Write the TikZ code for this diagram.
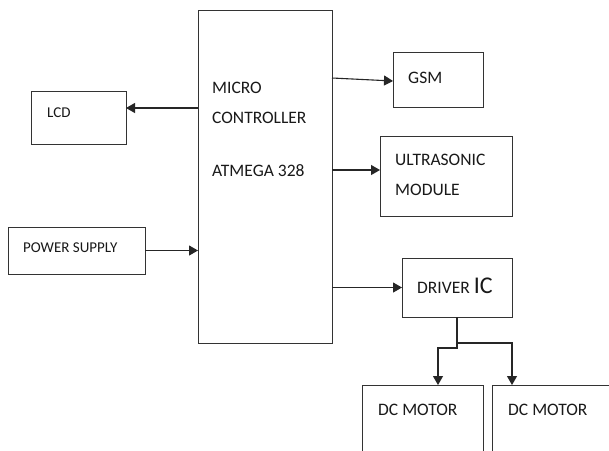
\documentclass[tikz,border=0pt]{standalone}
\usepackage{fontspec}
\setmainfont{Carlito}
\usepackage{tikz}
\usetikzlibrary{arrows.meta, positioning, calc}

\begin{document}
\begin{tikzpicture}[
    x=1pt, y=-1pt,
    blockbox/.style={draw=black!80, line width=1pt, rectangle, outer sep=0pt, inner sep=0pt},
    blocklabel/.style={anchor=base west, inner sep=0pt, text=black!90,
        font=\fontsize{17.5}{20}\selectfont},
    smalllabel/.style={blocklabel, font=\fontsize{15}{18}\selectfont},
    link/.style={draw=black!85, line width=1.1pt, -{Triangle[length=9pt, width=10pt]}},
    >=Triangle
]
\clip (0,0) rectangle (609,450);
\fill[white] (0,0) rectangle (609,450);

% --- Microcontroller (centre) ---
\node[blockbox, minimum width=134pt, minimum height=333pt] (mcu) at (265,176.5) {};
\node[blocklabel] (mculab1) at (212,93) {MICRO};
\node[blocklabel] (mculab2) at (212,123) {CONTROLLER};
\node[blocklabel] (mculab3) at (212,176) {ATMEGA 328};

% --- LCD and power supply (left) ---
\node[blockbox, minimum width=95pt, minimum height=53pt] (lcd) at (78.5,117.5) {};
\node[smalllabel] (lcdlab) at (47,117) {LCD};
\node[blockbox, minimum width=137pt, minimum height=47pt] (power) at (76.5,250.5) {};
\node[smalllabel] (powerlab) at (23,252) {POWER SUPPLY};

% --- GSM, ultrasonic, driver (right) ---
\node[blockbox, minimum width=90pt, minimum height=55pt] (gsm) at (438,79.5) {};
\node[blocklabel] (gsmlab) at (408,83) {GSM};
\node[blockbox, minimum width=132pt, minimum height=80pt] (ultra) at (446,176) {};
\node[blocklabel] (ultralab1) at (395,165) {ULTRASONIC};
\node[blocklabel] (ultralab2) at (395,195) {MODULE};
\node[blockbox, minimum width=110pt, minimum height=59pt] (driver) at (457,287.5) {};
\node[blocklabel] (driverlab) at (417,293) {DRIVER {\fontsize{24}{26}\selectfont IC}};

% --- DC motors (bottom, cut off by the page) ---
\node[blockbox, minimum width=121pt, minimum height=75pt] (motor1) at (422.5,422.5) {};
\node[blocklabel] (motor1lab) at (378,415) {DC MOTOR};
\node[blockbox, minimum width=156pt, minimum height=75pt] (motor2) at (570,422.5) {};
\node[blocklabel] (motor2lab) at (508,415) {DC MOTOR};

% --- connections ---
\coordinate (lcdin) at ([yshift=9.5pt]lcd.east);
\draw[link] (mcu.west |- lcdin) -- (lcdin);
\draw[link] (power.east) -- (mcu.west |- power.east);
\draw[link] ([yshift=1.5pt]mcu.east |- gsm.west) -- ([yshift=-1.5pt]gsm.west);
\coordinate (ultrain) at ([yshift=6pt]ultra.west);
\draw[link] (mcu.east |- ultrain) -- (ultrain);
\draw[link] (mcu.east |- driver.west) -- (driver.west);

\coordinate (split) at ([yshift=-26pt]driver.south);
\draw[link] (driver.south) -- (split) -- ++(0,5) -| ([xshift=15.5pt]motor1.north);
\draw[link] (split) -| ([xshift=-58pt]motor2.north);

\end{tikzpicture}
\end{document}
